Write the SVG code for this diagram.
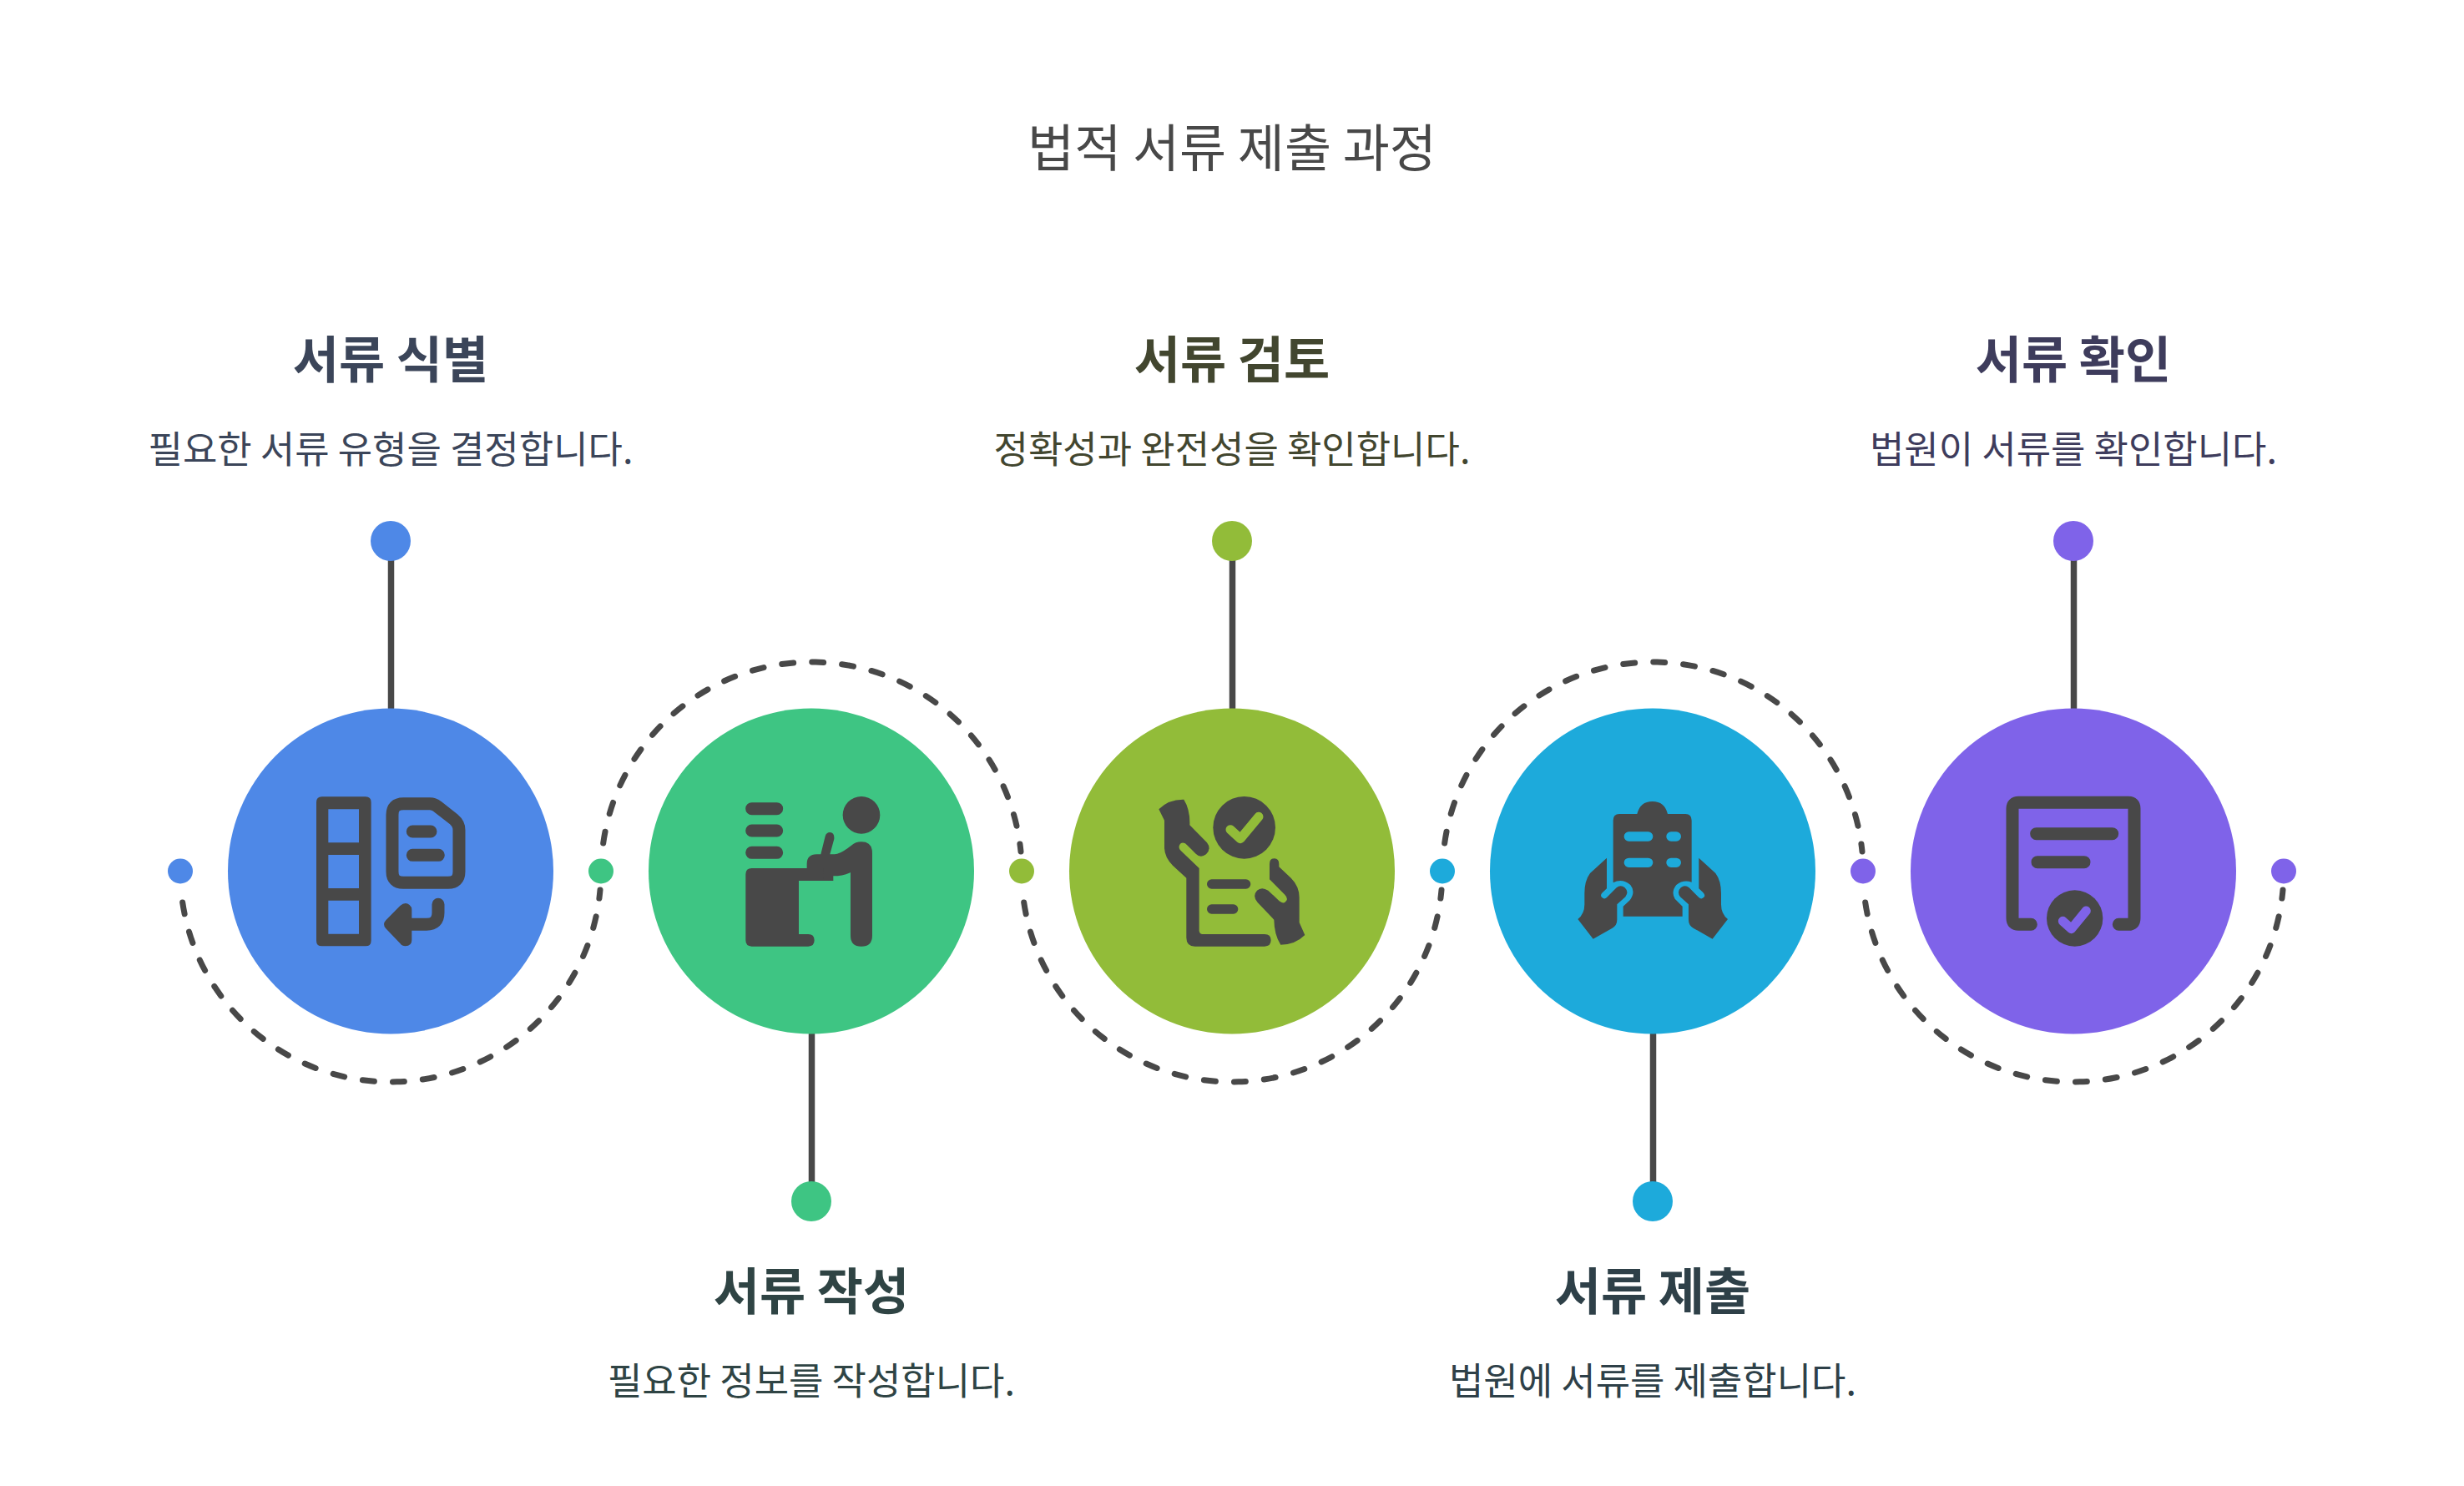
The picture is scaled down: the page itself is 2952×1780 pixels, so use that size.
<svg xmlns="http://www.w3.org/2000/svg" width="2952" height="1780" viewBox="0 0 2952 1780">
<style>
text{font-family:"Noto Sans CJK KR","Noto Sans",sans-serif;text-anchor:middle}
.t{font-size:61px;fill:#484848}
.h{font-size:60px;font-weight:700}
.s{font-size:45px}
.arc{fill:none;stroke:#484848;stroke-width:7;stroke-linecap:round;stroke-dasharray:14 22.1}
.ln{fill:none;stroke:#484848;stroke-width:7.5;stroke-linecap:round}
.i{fill:#484848}
.st{fill:none;stroke:#484848;stroke-width:45;stroke-linecap:round;stroke-linejoin:round}
.cut{fill:none;stroke-linecap:round;stroke-linejoin:round}
</style>
<rect width="2952" height="1780" fill="#ffffff"/>
<text class="t" x="1476" y="200">법적 서류 제출 과정</text>
<g id="connectors">
<path class="arc" d="M218.7 1081A252 252 0 0 0 719 1066"/>
<path class="arc" d="M722.7 1010A252 252 0 0 1 1223 1020"/>
<path class="arc" d="M1226.7 1081A252 252 0 0 0 1727 1066"/>
<path class="arc" d="M1730.7 1010A252 252 0 0 1 2231 1020"/>
<path class="arc" d="M2234.7 1081A252 252 0 0 0 2735 1066"/>
<path class="ln" d="M468.5 648V848"/>
<path class="ln" d="M972.5 1239V1439"/>
<path class="ln" d="M1476.5 648V848"/>
<path class="ln" d="M1980.5 1239V1439"/>
<path class="ln" d="M2484.5 648V848"/>
</g>
<g id="node-1">
<circle cx="468" cy="1043.5" r="195" fill="#4E88E7"/>
<circle cx="468" cy="648" r="24" fill="#4E88E7"/>
<circle cx="216" cy="1043.5" r="15" fill="#4E88E7"/>
<g transform="translate(340 920) scale(.3333)">
<path class="i" fill-rule="evenodd" d="M137 103H294Q314 103 314 123V620Q314 640 294 640H137Q117 640 117 620V123Q117 103 137 103ZM160 148V268H270V148ZM160 312V432H270V312ZM160 476V596H270V476Z"/>
<path class="st" d="M435 128H525Q540 128 552 138L612 185Q630 200 630 222V372Q630 412 590 412H430Q390 412 390 372V168Q390 128 430 128Z"/>
<path class="st" d="M463 228H528M463 313H556M555 490V520Q555 562 513 562H440"/>
<path class="i" d="M418 495Q437 478 452 492Q460 498 460 510V618Q460 640 437 640Q425 640 418 630L367 577Q353 562 367 547Z"/>
</g>
<text class="h" x="468" y="453" fill="#3B4559">서류 식별</text>
<text class="s" x="468" y="555" fill="#3B4559">필요한 서류 유형을 결정합니다.</text>
</g>
<g id="node-2">
<circle cx="972" cy="1043.5" r="195" fill="#3EC583"/>
<circle cx="972" cy="1439" r="24" fill="#3EC583"/>
<circle cx="720" cy="1043.5" r="15" fill="#3EC583"/>
<g transform="translate(860 920) scale(.3333)">
<circle class="i" cx="516" cy="169" r="67"/>
<path class="st" d="M122 146H212M122 225H212M122 304H212"/>
<path class="i" d="M122 360H395Q415 365 415 385V405H291V597H325Q347 597 347 619Q347 641 325 641H122Q100 641 100 619V382Q100 360 122 360Z"/>
<path class="i" d="M477 375V602Q477 641 516 641Q555 641 555 602V305Q555 265 516 265Q495 265 480 278Q440 310 420 310L403 310L418 255Q420 232 403 231Q390 231 386 245L370 310H355Q320 310 320 345V360H380V405H390Q410 405 414 388Q450 388 477 375Z"/>
</g>
<text class="h" x="972" y="1569" fill="#2F4444">서류 작성</text>
<text class="s" x="972" y="1671" fill="#2F4444">필요한 정보를 작성합니다.</text>
</g>
<g id="node-3">
<circle cx="1476" cy="1043.5" r="195" fill="#92BC39"/>
<circle cx="1476" cy="648" r="24" fill="#92BC39"/>
<circle cx="1224" cy="1043.5" r="15" fill="#92BC39"/>
<g transform="translate(1350 920) scale(.3333)">
<circle class="i" cx="422" cy="214" r="112"/>
<path class="cut" stroke="#92BC39" stroke-width="33" d="M372 221L408 254L474 175"/>
<path class="i" d="M115 148Q150 112 205 113Q228 150 226 205L288 268Q305 290 285 310Q265 325 248 308L218 278Q205 262 192 272Q182 285 195 298L260 360V585Q262 597 272 597H495Q518 597 518 619Q518 641 495 641H245Q214 641 214 610V395L165 350Q135 320 135 285V188Z"/>
<path class="i" d="M640 600Q605 635 553 635Q530 600 529 545L470 483Q450 460 468 440Q485 425 508 440L548 478Q565 492 575 475Q578 465 568 455L513 400V345Q513 325 530 325Q547 325 547 345V355L590 395Q620 425 620 465V555Z"/>
<path class="cut" stroke="#484848" stroke-width="34" d="M305 417H428M305 507H383"/>
</g>
<text class="h" x="1476" y="453" fill="#42462F">서류 검토</text>
<text class="s" x="1476" y="555" fill="#42462F">정확성과 완전성을 확인합니다.</text>
</g>
<g id="node-4">
<circle cx="1980" cy="1043.5" r="195" fill="#1DAADB"/>
<circle cx="1980" cy="1439" r="24" fill="#1DAADB"/>
<circle cx="1728" cy="1043.5" r="15" fill="#1DAADB"/>
<g transform="translate(1860 920) scale(.3333)">
<path class="i" d="M218 188Q218 165 240 165H304Q315 120 359 120Q403 120 414 165H478Q500 165 500 188V410Q470 400 445 420Q425 445 440 470L467 497V533H254V497L278 475Q300 445 280 420Q250 395 218 412Z"/>
<path class="cut" stroke="#1DAADB" stroke-width="34" d="M274 246H344M426 246H445M274 340H344M426 340H445"/>
<path id="hand" class="i" d="M195 323L135 378Q115 405 115 450V490Q115 525 91 543L146 614L215 575Q232 565 232 545V490L262 463Q275 445 260 430Q245 418 230 430L195 465Q185 475 175 462Q172 455 180 447L195 433Z"/>
<use href="#hand" transform="translate(721 0) scale(-1 1)"/>
</g>
<text class="h" x="1980" y="1569" fill="#2E4048">서류 제출</text>
<text class="s" x="1980" y="1671" fill="#2E4048">법원에 서류를 제출합니다.</text>
</g>
<g id="node-5">
<circle cx="2484" cy="1043.5" r="195" fill="#7F63E9"/>
<circle cx="2484" cy="648" r="24" fill="#7F63E9"/>
<circle cx="2232" cy="1043.5" r="15" fill="#7F63E9"/>
<circle cx="2736" cy="1043.5" r="15" fill="#7F63E9"/>
<g transform="translate(2360 920) scale(.3333)">
<path class="st" d="M220 562H175Q153 562 153 540V145Q153 124 175 124H570Q591 124 591 145V540Q591 562 570 562H535M239 236H512M243 338H411"/>
<circle class="i" cx="377" cy="540" r="101"/>
<path class="cut" stroke="#7F63E9" stroke-width="33" d="M334 550L365 578L418 513"/>
</g>
<text class="h" x="2484" y="453" fill="#3E3C5C">서류 확인</text>
<text class="s" x="2484" y="555" fill="#3E3C5C">법원이 서류를 확인합니다.</text>
</g>
</svg>
